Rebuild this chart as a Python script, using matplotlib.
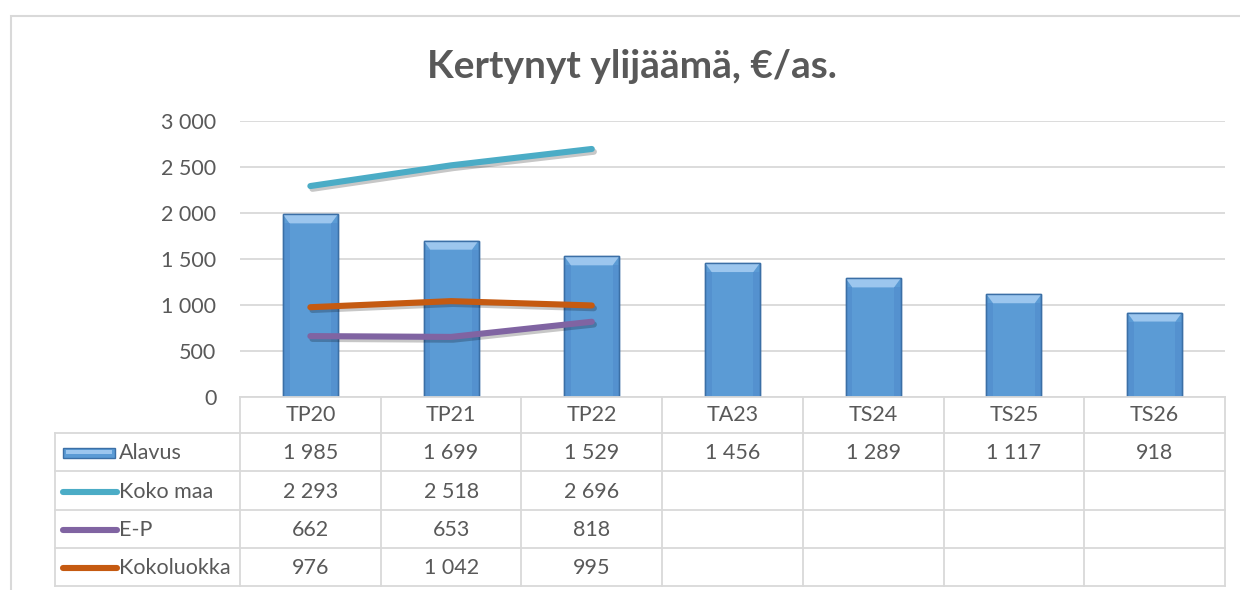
import matplotlib
matplotlib.use('Agg')
import matplotlib.pyplot as plt
from matplotlib import transforms
from matplotlib.patches import Rectangle, Polygon
from matplotlib.lines import Line2D
import matplotlib.patheffects as pe
from matplotlib.ticker import FuncFormatter, MultipleLocator

# ---------------- data ----------------
categories = ['TP20', 'TP21', 'TP22', 'TA23', 'TS24', 'TS25', 'TS26']
alavus = [1985, 1699, 1529, 1456, 1289, 1117, 918]
koko_maa = [2293, 2518, 2696]
ep = [662, 653, 818]
kokoluokka = [976, 1042, 995]
series_names = ['Alavus', 'Koko maa', 'E-P', 'Kokoluokka']
title = 'Kertynyt ylijäämä, €/as.'

# ---------------- style ----------------
plt.rcParams['font.family'] = ['Lato', 'DejaVu Sans']
TXT = '#595959'
GRID = '#D9D9D9'
BAR = '#5B9BD5'
BAR_EDGE = '#3B6FA6'
BAR_TOP = '#9CC6EE'
C_KOKO = '#4BACC6'
C_EP = '#8064A2'
C_KL = '#C55A11'
FS = 15.5

W, H = 1240, 590
fig = plt.figure(figsize=(12.4, 5.9), dpi=100)


def fx(px):
    return px / W


def fy(py):
    return 1 - py / H


# chart border (extends past the image on right / bottom)
fig.add_artist(Rectangle((fx(11), fy(700)), fx(1400), fy(16) - fy(700),
                         transform=fig.transFigure, fill=False,
                         edgecolor=GRID, lw=1.5))

ax = fig.add_axes([fx(240), fy(397), fx(1225) - fx(240), fy(121) - fy(397)])
ax.set_xlim(-0.5, 6.5)
ax.set_ylim(0, 3000)
ax.yaxis.set_major_locator(MultipleLocator(500))
ax.yaxis.set_major_formatter(FuncFormatter(lambda v, p: f"{int(v):,}".replace(',', ' ')))
ax.grid(axis='y', color=GRID, lw=1.3)
ax.set_axisbelow(True)
for s in ax.spines.values():
    s.set_visible(False)
ax.set_xticks([])
ax.tick_params(axis='y', length=0, pad=17, labelsize=FS, labelcolor=TXT)

# bars with a bevel-like look
x = list(range(len(categories)))
bw = 0.39
bars = ax.bar(x, alavus, width=bw, color=BAR, edgecolor=BAR_EDGE, lw=1.0, zorder=2)
px_per_unit = (397 - 121) / 3000.0
bev = 9 / px_per_unit  # ~9 px bevel height
for xi, v in zip(x, alavus):
    inset = bw * 0.12
    top = Polygon([(xi - bw / 2, v), (xi + bw / 2, v),
                   (xi + bw / 2 - inset, v - bev), (xi - bw / 2 + inset, v - bev)],
                  closed=True, facecolor=BAR_TOP, edgecolor='none', zorder=3)
    ax.add_patch(top)
    for side in (-1, 1):
        sx = xi + side * (bw / 2 - inset / 2)
        ax.add_patch(Rectangle((sx - inset / 2, 0), inset, v - bev,
                               facecolor='#4F8ACB', edgecolor='none', zorder=3, alpha=0.55))
    ax.add_patch(Rectangle((xi - bw / 2, 0), bw, v, fill=False,
                           edgecolor=BAR_EDGE, lw=1.0, zorder=4))

shadow = [pe.SimpleLineShadow(offset=(1.5, -2), alpha=0.22, shadow_color='black'), pe.Normal()]
n = len(koko_maa)
for vals, col in ((koko_maa, C_KOKO), (ep, C_EP), (kokoluokka, C_KL)):
    ax.plot(x[:n], vals, color=col, lw=4.4, solid_capstyle='round',
            solid_joinstyle='round', zorder=5, path_effects=shadow)

# title
fig.text(fx(632), fy(66), title, ha='center', va='center', fontsize=28,
         fontweight='bold', color=TXT)

# ---------------- data table ----------------
trans = transforms.blended_transform_factory(ax.transData, fig.transFigure)
col_w_px = (1225 - 240) / 7.0
label_left = -0.5 - (240 - 55) / col_w_px
row_py = [397, 433, 471, 510, 548, 586]
lkw = dict(color=GRID, lw=1.3, transform=trans, clip_on=False)

# horizontal lines
fig.add_artist(Line2D([-0.5, 6.5], [fy(row_py[0])] * 2, **lkw))
for py in row_py[1:]:
    fig.add_artist(Line2D([label_left, 6.5], [fy(py)] * 2, **lkw))
# vertical lines
for i in range(len(categories) + 1):
    xv = -0.5 + i
    fig.add_artist(Line2D([xv, xv], [fy(row_py[0]), fy(row_py[-1])], **lkw))
fig.add_artist(Line2D([label_left, label_left], [fy(row_py[1]), fy(row_py[-1])], **lkw))

# header
hy = fy((row_py[0] + row_py[1]) / 2)
for xi, c in zip(x, categories):
    fig.text(xi, hy, c, transform=trans, ha='center', va='center', fontsize=FS, color=TXT)


def fmt(v):
    return f"{v:,}".replace(',', ' ')


rows = [alavus, koko_maa, ep, kokoluokka]
colors = [BAR, C_KOKO, C_EP, C_KL]
for r, (name, vals, col) in enumerate(zip(series_names, rows, colors)):
    cy_px = (row_py[r + 1] + row_py[r + 2]) / 2 + 1
    cy = fy(cy_px)
    for xi, v in zip(x, vals):
        fig.text(xi, cy, fmt(v), transform=trans, ha='center', va='center',
                 fontsize=FS, color=TXT)
    # legend key
    if r == 0:
        fig.add_artist(Rectangle((fx(63), fy(cy_px + 5)), fx(52), fy(cy_px - 5) - fy(cy_px + 5),
                                 transform=fig.transFigure, facecolor=BAR, edgecolor=BAR_EDGE, lw=1))
        fig.add_artist(Rectangle((fx(66), fy(cy_px + 1)), fx(46), fy(cy_px - 3) - fy(cy_px + 1),
                                 transform=fig.transFigure, facecolor=BAR_TOP, edgecolor='none'))
    else:
        fig.add_artist(Line2D([fx(63), fx(117)], [cy, cy], transform=fig.transFigure,
                              color=col, lw=4.4, solid_capstyle='round'))
    fig.text(fx(119), cy, name, ha='left', va='center', fontsize=FS, color=TXT)

fig.savefig('out.png', dpi=100, facecolor='white')
